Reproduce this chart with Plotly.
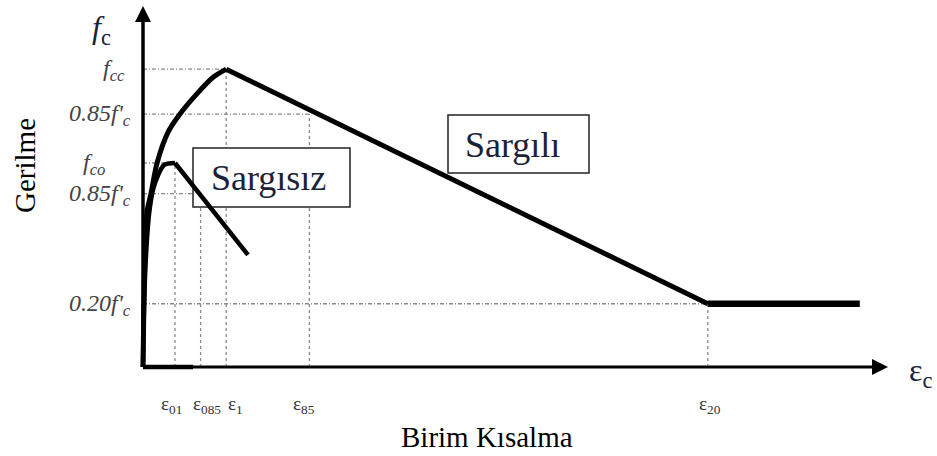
import plotly.graph_objects as go

# Schematic stress-strain model for confined / unconfined concrete
# strain in arbitrary units (x1e-3), stress relative to f'co

eps_labels = ["ε<sub>01</sub>", "ε<sub>085</sub>", "ε<sub>1</sub>", "ε<sub>85</sub>", "ε<sub>20</sub>"]
eps_values = [2.0, 3.6, 5.2, 10.4, 35.3]

stress_labels = [
    "<i>f<sub>cc</sub></i>",
    "<i>0.85f'<sub>c</sub></i>",
    "<i>f<sub>co</sub></i>",
    "<i>0.85f'<sub>c</sub></i>",
    "<i>0.20f'<sub>c</sub></i>",
]
stress_values = [1.46, 1.24, 1.0, 0.85, 0.31]

# which strain mark each stress level is paired with (guide-line corners)
pair_eps_index = [2, 3, 0, 1, 4]

confined_strain = [0, 0.06, 0.13, 0.25, 0.5, 0.88, 1.56, 2.31, 3.38, 4.38, 5.2, 35.3]
confined_stress = [0, 0.33, 0.57, 0.76, 0.85, 1.0, 1.15, 1.24, 1.34, 1.42, 1.46, 0.31]
confined_peak = 10  # index of f_cc

plateau_strain = [35.3, 44.8]
plateau_stress = [0.31, 0.31]

unconfined_strain = [0, 0.06, 0.19, 0.38, 0.63, 0.94, 1.31, 2.0, 6.56]
unconfined_stress = [0, 0.28, 0.55, 0.75, 0.87, 0.94, 0.99, 1.0, 0.55]
unconfined_peak = 7  # index of f_co

# ---- page geometry (pixels) ----
W, H = 937, 456
X0_PX, Y0_PX = 143, 367          # origin of the diagram
PX_PER_X, PX_PER_Y = 16.0, 204.0
L, R, T, B = 120, 17, 2, 60
PW, PH = W - L - R, H - T - B


def dx(px):
    return (px - X0_PX) / PX_PER_X


def dy(py):
    return (Y0_PX - py) / PX_PER_Y


def px_paper(px):
    return (px - L) / PW


def py_paper(py):
    return (H - B - py) / PH


x_range = [dx(L), dx(W - R)]
y_range = [dy(H - B), dy(T)]

SERIF = "Liberation Serif"
INK = "#1b2238"
GUIDE = "#8a8a8a"

fig = go.Figure()

shapes = []
# dotted guide lines
for i, s in enumerate(stress_values):
    e = eps_values[pair_eps_index[i]]
    shapes.append(dict(type="line", xref="x", yref="y", x0=0, x1=e, y0=s, y1=s,
                       line=dict(color=GUIDE, width=1.3, dash="4px,2px,1px,2px"), layer="below"))
    shapes.append(dict(type="line", xref="x", yref="y", x0=e, x1=e, y0=0, y1=s,
                       line=dict(color=GUIDE, width=1.3, dash="dot"), layer="below"))

# label boxes (white fill hides guides, curves stay on top)
shapes.append(dict(type="rect", xref="x", yref="y", x0=dx(193), x1=dx(350), y0=dy(207), y1=dy(148),
                   line=dict(color="#222", width=1.5), fillcolor="white", layer="below"))
shapes.append(dict(type="rect", xref="x", yref="y", x0=dx(448), x1=dx(589), y0=dy(173), y1=dy(115),
                   line=dict(color="#222", width=1.5), fillcolor="white", layer="below"))

# axes
x_tip, y_tip = dx(888), dy(6)
shapes.append(dict(type="line", xref="x", yref="y", x0=0, x1=x_tip - 0.6, y0=0, y1=0,
                   line=dict(color="black", width=3)))
shapes.append(dict(type="line", xref="x", yref="y", x0=0, x1=dx(193), y0=0, y1=0,
                   line=dict(color="black", width=4.5)))
shapes.append(dict(type="line", xref="x", yref="y", x0=0, x1=0, y0=0, y1=y_tip - 0.05,
                   line=dict(color="black", width=3.5)))


def add_curve(xs, ys, width, shape):
    fig.add_trace(go.Scatter(x=xs, y=ys, mode="lines",
                             line=dict(color="black", width=width, shape=shape, smoothing=0.8),
                             showlegend=False, hoverinfo="skip"))


# ascending branches smooth, descending branches straight
add_curve(unconfined_strain[:unconfined_peak + 1], unconfined_stress[:unconfined_peak + 1], 4.5, "spline")
add_curve(unconfined_strain[unconfined_peak:], unconfined_stress[unconfined_peak:], 4.5, "linear")
add_curve(confined_strain[:confined_peak + 1], confined_stress[:confined_peak + 1], 5, "spline")
add_curve(confined_strain[confined_peak:], confined_stress[confined_peak:], 5, "linear")
add_curve(plateau_strain, plateau_stress, 6.5, "linear")

# arrow heads
fig.add_trace(go.Scatter(x=[0], y=[y_tip], mode="markers", cliponaxis=False,
                         marker=dict(symbol="arrow-up", size=16, color="black"),
                         showlegend=False, hoverinfo="skip"))
fig.add_trace(go.Scatter(x=[x_tip], y=[0], mode="markers", cliponaxis=False,
                         marker=dict(symbol="arrow-right", size=16, color="black"),
                         showlegend=False, hoverinfo="skip"))

ann = []
# stress level labels, right edges in pixels
label_right_px = [127, 133, 108, 133, 133]
for lab, s, rp in zip(stress_labels, stress_values, label_right_px):
    ann.append(dict(x=0, y=s, xref="x", yref="y", text=lab, showarrow=False,
                    xanchor="right", yanchor="middle", xshift=rp - X0_PX, yshift=-1,
                    font=dict(family=SERIF, size=24, color="#444")))

# strain labels
eps_shift = [-4, 6, 9, -5, 2]
for lab, e, sh in zip(eps_labels, eps_values, eps_shift):
    ann.append(dict(x=(e * PX_PER_X + X0_PX - L) / PW, y=py_paper(405), xref="paper", yref="paper",
                    text=lab, showarrow=False, xanchor="center", yanchor="middle", xshift=sh,
                    font=dict(family=SERIF, size=19, color="#333")))


def centered(px, py, text, size, color, **kw):
    return dict(x=px_paper(px), y=py_paper(py), xref="paper", yref="paper", text=text,
                showarrow=False, xanchor="center", yanchor="middle",
                font=dict(family=SERIF, size=size, color=color), **kw)


ann += [
    centered(101, 30, "<i>f</i><sub>c</sub>", 32, INK),
    centered(920, 372, "ε<sub>c</sub>", 32, INK),
    centered(25, 166, "Gerilme", 29, "black", textangle=-90),
    centered(487, 437, "Birim Kısalma", 29, "black"),
    centered(268, 178, "Sargısız", 36, INK),
    centered(512, 145, "Sargılı", 36, INK),
]

fig.update_layout(
    width=W, height=H,
    margin=dict(l=L, r=R, t=T, b=B),
    paper_bgcolor="white", plot_bgcolor="white",
    xaxis=dict(range=x_range, visible=False, fixedrange=True),
    yaxis=dict(range=y_range, visible=False, fixedrange=True),
    shapes=shapes, annotations=ann, showlegend=False,
)

fig.write_html("out.html")
